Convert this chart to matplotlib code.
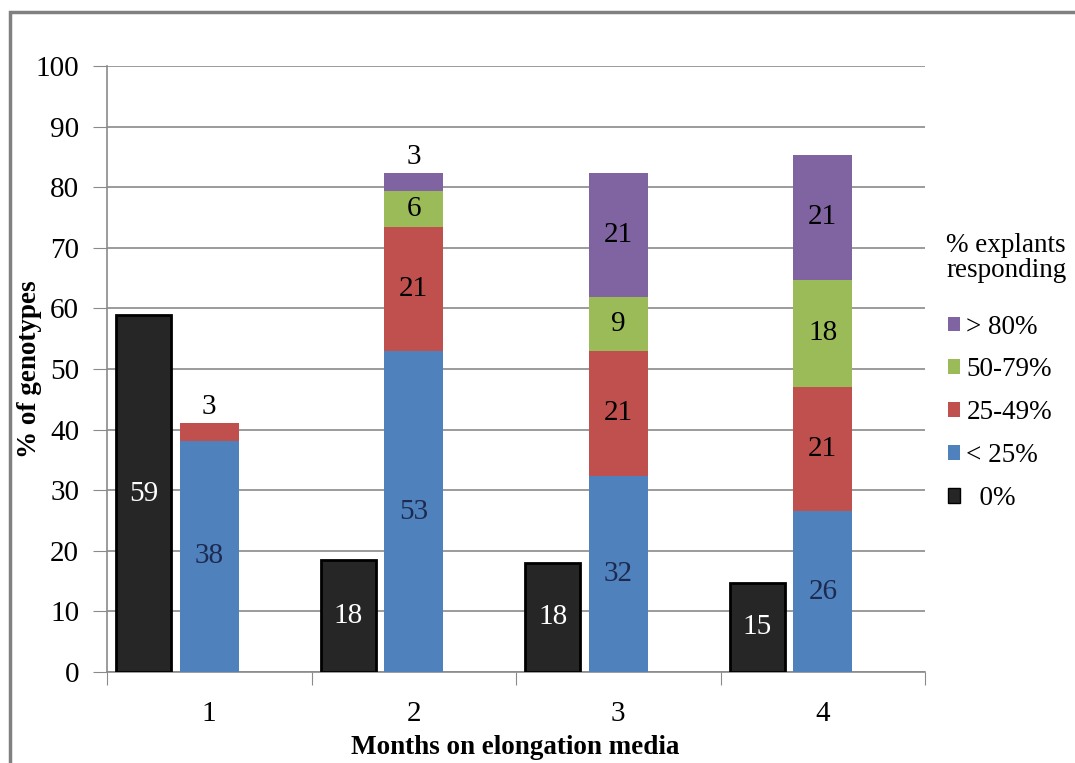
import numpy as np
import matplotlib
matplotlib.use("Agg")
import matplotlib.pyplot as plt
from matplotlib.patches import Patch, Rectangle

plt.rcParams["font.family"] = ["Liberation Serif", "DejaVu Serif"]

# data (% of genotypes)
months = ["1", "2", "3", "4"]
zero = [58.9, 18.5, 18.0, 14.7]
lt25 = [38.2, 52.9, 32.4, 26.5]
p25_49 = [2.9, 20.6, 20.6, 20.6]
p50_79 = [0.0, 5.9, 8.8, 17.6]
gt80 = [0.0, 2.9, 20.6, 20.6]

zero_lab = ["59", "18", "18", "15"]
lt25_lab = ["38", "53", "32", "26"]
p25_49_lab = ["3", "21", "21", "21"]
p50_79_lab = ["", "6", "9", "18"]
gt80_lab = ["", "3", "21", "21"]

c_black = "#262626"
c_blue = "#4F81BD"
c_red = "#C0504D"
c_green = "#9BBB59"
c_purple = "#8064A2"
grid_c = "#8a8a8a"
FS = 21
FS_LAB = 19.5
FS_LEG = 19.5


def label_segments(ax, x, bottoms, heights, labels, color, small_above=False):
    for xi, b, h, lab in zip(x, bottoms, heights, labels):
        if not lab:
            continue
        if small_above and h < 4:
            ax.text(xi, b + h + 0.5, lab, ha="center", va="bottom",
                    fontsize=FS, color="black")
        else:
            ax.text(xi, b + h / 2, lab, ha="center", va="center",
                    fontsize=FS, color=color)


def main():
    fig = plt.figure(figsize=(10.75, 7.63), dpi=100)
    ax = fig.add_axes([107 / 1075, 1 - 672 / 763, (925 - 107) / 1075, (672 - 66) / 763])

    x = np.arange(1, len(months) + 1)
    w_stack = 0.29
    w_zero = 0.27
    off = -0.32

    ax.bar(x + off, zero, w_zero, color=c_black, edgecolor="black", linewidth=2, zorder=3)
    b = np.zeros(len(months))
    segs = [(lt25, c_blue, lt25_lab, "#1c2a50"),
            (p25_49, c_red, p25_49_lab, "black"),
            (p50_79, c_green, p50_79_lab, "black"),
            (gt80, c_purple, gt80_lab, "black")]
    for vals, col, labs, tc in segs:
        vals = np.asarray(vals)
        ax.bar(x, vals, w_stack, bottom=b, color=col, linewidth=0, zorder=3)
        label_segments(ax, x, b, vals, labs, tc, small_above=True)
        b = b + vals

    label_segments(ax, x + off, np.zeros(len(months)), zero, zero_lab, "white")

    ax.set_xlim(0.5, 4.5)
    ax.set_ylim(0, 100)
    ax.set_yticks(np.arange(0, 101, 10))
    ax.set_xticks(np.arange(0.5, 4.6, 1.0))
    ax.set_xticklabels([])
    ax.set_xticks(x, minor=True)
    ax.set_xticklabels(months, minor=True)
    ax.tick_params(axis="x", which="major", length=9, color=grid_c, direction="out")
    ax.tick_params(axis="x", which="minor", length=0, pad=21, labelsize=FS)
    ax.tick_params(axis="y", length=10, color=grid_c, pad=10, labelsize=FS)
    ax.yaxis.grid(True, color=grid_c, linewidth=1.2, zorder=0)
    ax.set_axisbelow(True)
    for s in ["top", "right"]:
        ax.spines[s].set_visible(False)
    for s in ["left", "bottom"]:
        ax.spines[s].set_color(grid_c)
        ax.spines[s].set_linewidth(1.2)

    ax.set_xlabel("Months on elongation media", fontsize=FS_LAB, fontweight="bold")
    ax.xaxis.label.set_va("center")
    ax.xaxis.set_label_coords(0.499, (672 - 748) / 606)
    ax.set_ylabel("% of genotypes", fontsize=FS_LAB, fontweight="bold")
    ax.yaxis.label.set_va("center")
    ax.yaxis.set_label_coords((30 - 107) / 818, 0.5)

    # legend title drawn separately so the gap below it matches
    fig.text(946 / 1075, 1 - 258 / 763, "% explants\nresponding", ha="left",
             va="center", fontsize=FS_LEG, linespacing=0.95)
    handles = [Patch(facecolor=c_purple, edgecolor="none"),
               Patch(facecolor=c_green, edgecolor="none"),
               Patch(facecolor=c_red, edgecolor="none"),
               Patch(facecolor=c_blue, edgecolor="none"),
               Patch(facecolor=c_black, edgecolor="black")]
    names = ["> 80%", "50-79%", "25-49%", "< 25%", "  0%"]
    fig.legend(handles, names,
               loc="upper left", bbox_to_anchor=(934 / 1075, 1 - 301 / 763),
               frameon=False, fontsize=FS_LEG,
               handlelength=0.45, handleheight=0.45, handletextpad=0.25,
               labelspacing=0.66, borderpad=0)

    fig.patches.append(Rectangle((10 / 1075, -0.1), 2, 1 - 12 / 763 + 0.1,
                                 transform=fig.transFigure, fill=False,
                                 edgecolor="#808080", linewidth=2.5))

    fig.savefig("out.png", dpi=100)


if __name__ == "__main__":
    main()
